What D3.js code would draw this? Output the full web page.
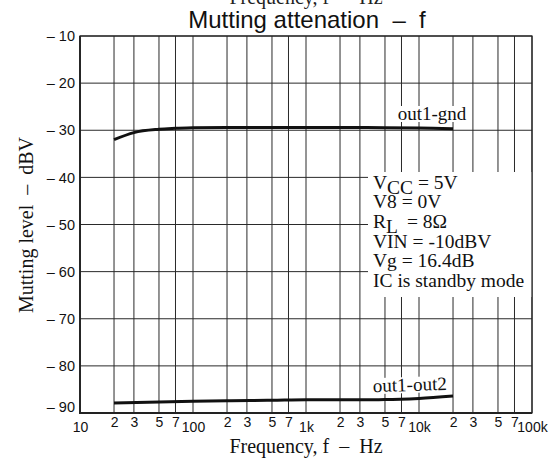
<!DOCTYPE html>
<html><head><meta charset="utf-8">
<script src="https://cdn.jsdelivr.net/npm/d3@7"></script>
<style>
body{margin:0;background:#fff;}
svg text{white-space:pre;}
</style></head>
<body>
<svg id="c" width="555" height="463"></svg>
<script>
// ---- data ----
const xTickValues = [10,20,30,50,70,100,200,300,500,700,1000,2000,3000,5000,7000,10000,20000,30000,50000,70000,100000];
const xTickLabels = ["10","2","3","5","7","100","2","3","5","7","1k","2","3","5","7","10k","2","3","5","7","100k"];
const yTickValues = [-10,-20,-30,-40,-50,-60,-70,-80,-90];

const freqGnd  = [20, 30, 50, 70, 100, 200, 500, 1000, 2000, 5000, 10000, 20000];
const levelGnd = [-32.0, -30.5, -29.8, -29.6, -29.45, -29.4, -29.4, -29.4, -29.4, -29.45, -29.5, -29.7];

const freqOut2  = [20, 40, 100, 200, 500, 1000, 2000, 5000, 10000, 20000];
const levelOut2 = [-87.9, -87.7, -87.5, -87.4, -87.3, -87.2, -87.2, -87.15, -86.9, -86.4];

const conditions = ["VCC = 5V","V8 = 0V","RL = 8Ω","VIN = -10dBV","Vg = 16.4dB","IC is standby mode"];

// ---- layout ----
const L = 80, R = 532, T = 36, B = 413;
const svg = d3.select("#c");
const x = d3.scaleLog().domain([10,100000]).range([L,R]);
const y = d3.scaleLinear().domain([-10,-90]).range([T,B]);

const serif = "'Liberation Serif','Times New Roman',serif";
const sans = "'Liberation Sans',Arial,sans-serif";

// clipped top label (remnant)
svg.append("text").attr("x",306).attr("y",4).attr("text-anchor","middle")
  .attr("font-family",serif).attr("font-size",20).attr("fill","#222")
  .text("Frequency, f  –  Hz");

// title
svg.append("text").attr("x",307).attr("y",28).attr("text-anchor","middle")
  .attr("font-family",sans).attr("font-size",24).attr("fill","#111")
  .text("Mutting attenation  –  f");

// grid
const g = svg.append("g");
g.selectAll("line.v").data(xTickValues).join("line")
  .attr("x1",d=>x(d)).attr("x2",d=>x(d)).attr("y1",T).attr("y2",B)
  .attr("stroke","#2a2a2a").attr("stroke-width",1);
g.selectAll("line.h").data(yTickValues).join("line")
  .attr("y1",d=>y(d)).attr("y2",d=>y(d)).attr("x1",L).attr("x2",R)
  .attr("stroke","#2a2a2a").attr("stroke-width",1);

// curves
const line = d3.line().x(d=>x(d[0])).y(d=>y(d[1])).curve(d3.curveMonotoneX);
svg.append("path").datum(freqGnd.map((f,i)=>[f,levelGnd[i]]))
  .attr("d",line).attr("fill","none").attr("stroke","#111").attr("stroke-width",3);
svg.append("path").datum(freqOut2.map((f,i)=>[f,levelOut2[i]]))
  .attr("d",line).attr("fill","none").attr("stroke","#111").attr("stroke-width",3);

// conditions box
svg.append("rect").attr("x",368).attr("y",172).attr("width",164).attr("height",125).attr("fill","#fff");
const baseY = 188.5, lh = 19.7;
const tb = svg.append("g").attr("font-family",serif).attr("font-size",19.5).attr("fill","#111");
conditions.forEach((c,i)=>{
  const t = tb.append("text").attr("x",373).attr("y",baseY+i*lh);
  if (c.startsWith("VCC")) {
    t.append("tspan").text("V");
    t.append("tspan").attr("dy",5).text("CC");
    t.append("tspan").attr("dy",-5).text(" = 5V");
  } else if (c.startsWith("RL")) {
    t.append("tspan").text("R");
    t.append("tspan").attr("dy",5).text("L");
    t.append("tspan").attr("dy",-5).text("  = 8Ω");
  } else t.text(c);
});

// curve labels
function curveLabel(txt, cx, by, rot){
  const gg = svg.append("g").attr("transform",`rotate(${rot},${cx},${by})`);
  const t = gg.append("text").attr("x",cx).attr("y",by).attr("text-anchor","middle")
    .attr("font-family",serif).attr("font-size",19).attr("fill","#111").text(txt);
  const bb = t.node().getBBox();
  gg.insert("rect","text").attr("x",bb.x-1).attr("y",bb.y+3).attr("width",bb.width+2).attr("height",bb.height-5).attr("fill","#fff");
}
curveLabel("out1-gnd", 432, 120, 0);
curveLabel("out1-out2", 410, 391, -1.8);

// frame
svg.append("rect").attr("x",L).attr("y",T).attr("width",R-L).attr("height",B-T)
  .attr("fill","none").attr("stroke","#222").attr("stroke-width",1.2);
svg.append("line").attr("x1",L).attr("x2",L).attr("y1",T).attr("y2",B+1).attr("stroke","#222").attr("stroke-width",1.8);
svg.append("line").attr("x1",L-1).attr("x2",R).attr("y1",B).attr("y2",B).attr("stroke","#222").attr("stroke-width",1.8);

// axes
const xa = svg.append("g").attr("transform",`translate(0,${B})`)
  .call(d3.axisBottom(x).tickValues(xTickValues).tickSize(0).tickPadding(0)
        .tickFormat((d,i)=>xTickLabels[i]));
xa.select(".domain").remove();
xa.selectAll("text").attr("font-family",sans).attr("font-size",14).attr("fill","#111")
  .attr("dy",null)
  .attr("y",(d,i)=> /^(10|100|1k|10k|100k)$/.test(xTickLabels[i]) ? 19 : 14);

const ya = svg.append("g").attr("transform",`translate(${L},0)`)
  .call(d3.axisLeft(y).tickValues(yTickValues).tickSize(0).tickPadding(5)
        .tickFormat(d=>"– "+Math.abs(d)));
ya.select(".domain").remove();
ya.selectAll("text").attr("font-family",sans).attr("font-size",14.5).attr("fill","#111")
  .attr("dy",d=> d===-90 ? "-0.1em" : "0.32em");

// axis titles
svg.append("text").attr("x",306).attr("y",453).attr("text-anchor","middle")
  .attr("font-family",serif).attr("font-size",20).attr("fill","#111")
  .text("Frequency, f  –  Hz");
svg.append("text").attr("transform","translate(33,225) rotate(-90)").attr("text-anchor","middle")
  .attr("font-family",serif).attr("font-size",20).attr("fill","#111")
  .text("Mutting level  –  dBV");
</script>
</body></html>
